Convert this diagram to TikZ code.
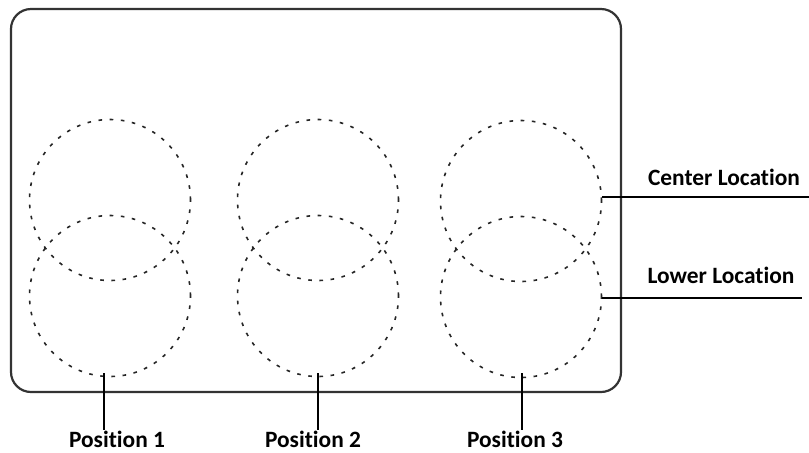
\documentclass[tikz,border=0pt]{standalone}
\usepackage{fontspec}
\setmainfont[Ligatures=NoCommon]{Carlito}
\usetikzlibrary{positioning}

\begin{document}
\begin{tikzpicture}[x=0.5pt, y=-0.5pt,
		spot/.style={circle, draw=black!85, line width=0.8pt, dash pattern=on 1.8pt off 3.8pt, minimum size=80.5pt, inner sep=0pt},
		tag/.style={font=\fontsize{11.7}{13}\selectfont\bfseries, inner sep=0pt},
		lead/.style={line width=1pt, color=black}]
			%%%%% START %%%%%
			\useasboundingbox (0, 0) rectangle (809, 452);
			
			\draw[line width=1.1pt, color=black!80, rounded corners=10pt] (11, 9) rectangle (621, 392);
			
			\node[spot] (up1) at (110, 200) {};
			\node[spot] (lo1) at (110, 296) {};
			\node[spot] (up2) at (318, 200) {};
			\node[spot] (lo2) at (318, 296) {};
			\node[spot] (up3) at (521, 201) {};
			\node[spot] (lo3) at (521, 297) {};
			
			\node[tag] (center) at (724, 177.5) {Center Location};
			\node[tag] (lower) at (721, 275.5) {Lower Location};
			\coordinate (centerend) at (809, 197);
			\coordinate (lowerend) at (802, 298);
			\draw[lead] (up3.east |- centerend) -- (centerend);
			\draw[lead] (lo3.east |- lowerend) -- (lowerend);
			
			\node[tag] (pos1) at (117, 439) {Position 1};
			\node[tag] (pos2) at (313, 439) {Position 2};
			\node[tag] (pos3) at (515, 439) {Position 3};
			\coordinate (pin1) at (104, 373);
			\coordinate (pin2) at (318, 373);
			\coordinate (pin3) at (522, 373);
			\draw[lead] (pin1) -- (pin1 |- pos1.north);
			\draw[lead] (pin2) -- (pin2 |- pos2.north);
			\draw[lead] (pin3) -- (pin3 |- pos3.north);
			
			%%%%% END %%%%%
\end{tikzpicture}
\end{document}
